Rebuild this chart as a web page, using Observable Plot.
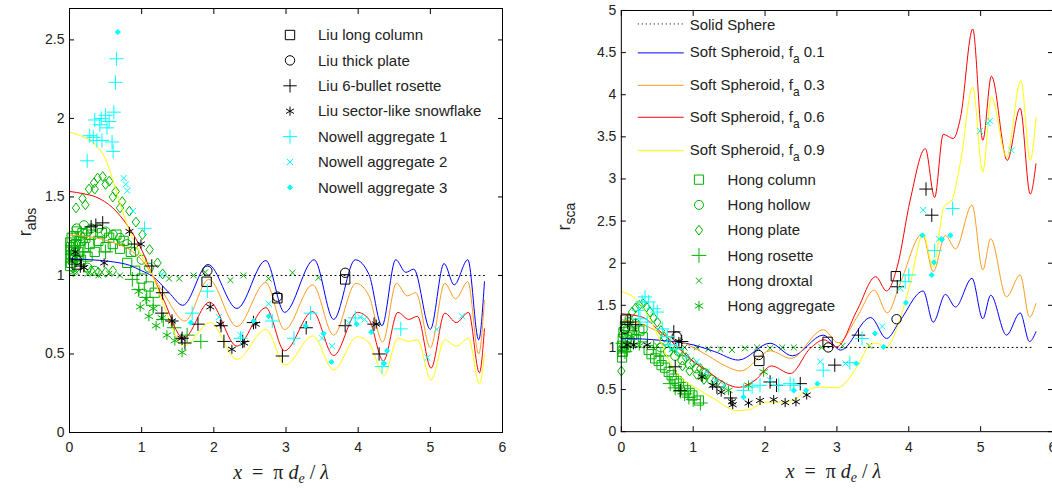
<!DOCTYPE html>
<html><head><meta charset="utf-8">
<script src="https://cdn.jsdelivr.net/npm/d3@7"></script>
<script src="https://cdn.jsdelivr.net/npm/@observablehq/plot@0.6"></script>
<style>
body{margin:0;background:#fff;}
#wrap{position:relative;width:1052px;height:488px;overflow:hidden;background:#fff}
#left,#right{position:absolute;top:0}
#left{left:0}
#right{left:530px}
svg{overflow:visible}
</style></head><body><div id="wrap"><div id="left"></div><div id="right"></div></div>
<script>
// ---------- tick labels ----------
const xTicks = [0, 1, 2, 3, 4, 5, 6];
const absYTicks = [0, 0.5, 1, 1.5, 2, 2.5];
const scaYTicks = [0, 0.5, 1, 1.5, 2, 2.5, 3, 3.5, 4, 4.5, 5];

// ---------- legend labels ----------
const absLegend = ["Liu long column", "Liu thick plate", "Liu 6-bullet rosette", "Liu sector-like snowflake",
  "Nowell aggregate 1", "Nowell aggregate 2", "Nowell aggregate 3"];
const curveLegend = ["Solid Sphere", "0.1", "0.3", "0.6", "0.9"];
const hongLegend = ["Hong column", "Hong hollow", "Hong plate", "Hong rosette", "Hong droxtal", "Hong aggregate"];

// ---------- solid sphere reference ----------
const sphere = [[0, 1], [5.75, 1]];

// ---------- r_abs curves (soft spheroid f_a 0.1, 0.3, 0.6, 0.9) ----------
const absBlue = [[0,1.105],[0.3,1.10],[0.6,1.087],[0.83,1.065],[1.0,1.03],[1.15,0.995],[1.38,0.89],[1.57,0.81],[1.92,1.07],[2.32,0.79],[2.72,1.095],[2.98,0.765],[3.39,1.10],[3.66,0.72],[3.96,1.10],[4.15,1.006],[4.33,0.68],[4.52,1.10],[4.66,1.02],[4.77,1.04],[5.0,0.657],[5.19,1.076],[5.33,0.94],[5.52,1.10],[5.67,0.59],[5.75,0.96]];
const absOrange = [[0,1.256],[0.3,1.245],[0.6,1.21],[0.83,1.165],[1.0,1.10],[1.15,1.0],[1.3,0.89],[1.6,0.71],[1.93,0.975],[2.32,0.675],[2.72,0.955],[2.98,0.655],[3.37,0.94],[3.66,0.62],[3.97,0.95],[4.15,0.87],[4.34,0.576],[4.53,0.95],[4.68,0.87],[4.8,0.89],[5.0,0.54],[5.2,0.95],[5.35,0.85],[5.52,0.96],[5.67,0.50],[5.75,0.84]];
const absRed = [[0,1.535],[0.2,1.52],[0.365,1.50],[0.6,1.43],[0.83,1.30],[1.01,1.154],[1.15,1.0],[1.3,0.85],[1.58,0.60],[1.94,0.83],[2.32,0.55],[2.72,0.795],[2.98,0.52],[3.37,0.77],[3.66,0.49],[3.99,0.765],[4.15,0.72],[4.35,0.455],[4.55,0.765],[4.7,0.72],[4.82,0.74],[5.01,0.41],[5.2,0.76],[5.36,0.70],[5.53,0.765],[5.68,0.38],[5.75,0.66]];
const absYellow = [[0,1.912],[0.2,1.88],[0.365,1.83],[0.5,1.74],[0.64,1.55],[0.8,1.32],[0.97,1.15],[1.15,1.0],[1.3,0.816],[1.45,0.64],[1.58,0.55],[1.95,0.70],[2.32,0.466],[2.72,0.657],[2.99,0.43],[3.37,0.615],[3.66,0.40],[3.99,0.61],[4.15,0.57],[4.36,0.366],[4.55,0.60],[4.7,0.58],[4.82,0.59],[5.01,0.335],[5.2,0.59],[5.36,0.55],[5.53,0.60],[5.68,0.31],[5.75,0.50]];

// ---------- r_sca curves ----------
const scaBlue = [[0,1.107],[0.3,1.10],[0.6,1.08],[1.0,1.03],[1.3,0.95],[1.63,0.85],[2.07,1.05],[2.38,0.90],[2.81,1.146],[3.05,0.968],[3.47,1.355],[3.69,1.106],[3.88,1.32],[4.2,1.67],[4.34,1.30],[4.51,1.63],[4.65,1.48],[4.88,1.82],[5.03,1.34],[5.14,1.62],[5.36,1.146],[5.55,1.41],[5.68,1.07],[5.77,1.185]];
const scaOrange = [[0,1.33],[0.3,1.27],[0.6,1.15],[0.93,1.03],[1.21,0.90],[1.45,0.78],[1.66,0.72],[2.07,0.96],[2.36,0.87],[2.81,1.21],[3.02,1.055],[3.28,1.36],[3.52,1.68],[3.7,1.41],[3.88,1.76],[4.19,2.35],[4.34,1.90],[4.51,2.33],[4.65,2.17],[4.88,2.69],[5.03,1.92],[5.14,2.29],[5.36,1.60],[5.55,1.86],[5.68,1.36],[5.77,1.52]];
const scaRed = [[0,1.40],[0.29,1.36],[0.52,1.205],[0.75,1.03],[0.98,0.85],[1.21,0.71],[1.45,0.573],[1.63,0.526],[1.86,0.61],[2.09,0.78],[2.35,0.69],[2.63,0.99],[2.82,1.09],[3.0,1.007],[3.28,1.44],[3.54,1.84],[3.69,1.67],[3.84,1.96],[4.02,2.75],[4.23,3.36],[4.36,2.78],[4.48,3.53],[4.62,3.48],[4.72,3.73],[4.89,4.78],[5.03,3.46],[5.15,4.22],[5.37,3.22],[5.55,3.84],[5.69,2.82],[5.77,3.18]];
const scaYellow = [[0,1.66],[0.195,1.58],[0.38,1.36],[0.52,1.12],[0.66,0.85],[0.84,0.63],[1.0,0.54],[1.31,0.38],[1.6,0.25],[1.77,0.26],[2.0,0.35],[2.2,0.35],[2.38,0.37],[2.6,0.5],[2.8,0.53],[3.0,0.52],[3.28,0.77],[3.46,1.03],[3.55,1.05],[3.69,1.007],[3.84,1.24],[4.02,1.76],[4.2,2.35],[4.34,1.95],[4.49,2.67],[4.6,2.75],[4.72,3.2],[4.89,4.09],[5.03,3.08],[5.15,3.97],[5.36,3.26],[5.56,4.17],[5.69,3.22],[5.77,3.73]];

// ---------- r_abs data points ----------
const absLiuColumn = [[0.1,1.07],[1.9,0.96],[2.88,0.855],[3.82,0.975]];
const absLiuPlate = [[0.1,1.10],[1.91,1.03],[2.88,0.865],[3.82,1.017]];
const absLiuRosette = [[0.15,1.06],[0.30,1.31],[0.365,1.32],[0.46,1.335],[0.9,1.2],[1.14,1.06],[1.29,0.89],[1.28,0.76],[1.42,0.71],[1.56,0.60],[1.6,0.57],[1.78,0.69],[2.1,0.68],[2.14,0.58],[2.4,0.58],[2.55,0.70],[2.95,0.487],[3.28,0.667],[3.82,0.68],[4.22,0.69],[4.29,0.50]];
const absLiuSnow = [[0.08,1.15],[0.2,1.05],[0.48,1.08],[0.83,1.28],[0.99,1.20],[1.42,0.71],[1.55,0.60],[1.95,0.80],[2.09,0.69],[2.25,0.53],[2.42,0.57],[2.58,0.69],[4.25,0.69]];
const absNowell1 = [[0.245,1.73],[0.28,1.89],[0.33,1.88],[0.35,1.99],[0.38,1.86],[0.42,1.96],[0.44,2.0],[0.45,1.86],[0.50,2.02],[0.52,1.94],[0.55,1.98],[0.59,1.85],[0.605,1.79],[0.614,2.04],[0.637,2.23],[0.65,2.38],[1.04,1.30],[1.70,0.76],[1.91,0.90],[2.37,0.60],[2.81,0.71],[3.11,0.60],[3.34,0.76],[3.96,0.73],[4.33,0.42],[4.59,0.66]];
const absNowell2 = [[0.75,1.62],[0.78,1.58],[0.80,1.54],[0.88,1.41],[1.28,1.006],[2.07,0.735],[2.37,0.62],[2.76,0.82],[3.50,0.60],[3.64,0.55],[3.87,0.70],[4.03,0.735],[4.09,0.72],[4.96,0.476],[5.09,0.657],[5.44,0.74]];
const absNowell3 = [[0.67,2.55],[1.68,0.70],[2.55,0.71],[2.76,0.74],[3.27,0.68],[3.52,0.63],[3.63,0.45],[3.98,0.69],[4.18,0.64],[4.36,0.44],[4.40,0.52]];
const absHongColumn = [[0.01,1.06],[0.01,1.11],[0.01,1.16],[0.01,1.21],[0.02,1.08],[0.02,1.13],[0.02,1.18],[0.03,1.24],[0.05,1.10],[0.05,1.16],[0.06,1.25],[0.08,1.12],[0.09,1.2],[0.1,1.28],[0.12,1.15],[0.14,1.22],[0.16,1.1],[0.18,1.27],[0.2,1.18],[0.22,1.24],[0.25,1.12],[0.28,1.2],[0.3,1.26],[0.35,1.15],[0.4,1.22],[0.45,1.27],[0.5,1.18],[0.55,1.24],[0.6,1.2],[0.65,1.26],[0.7,1.17],[0.75,1.22],[0.8,1.08],[0.85,1.15],[0.91,1.03],[1.0,0.98],[1.1,0.93],[1.18,0.89]];
const absHongHollow = [[0.05,1.2],[0.1,1.3],[0.15,1.25],[0.2,1.32],[0.25,1.28],[0.3,1.3],[0.4,1.3],[0.5,1.28],[0.6,1.26],[0.7,1.24],[0.8,1.2],[0.9,1.15],[1.0,1.1],[1.1,1.05],[0.25,1.05],[0.35,1.03]];
const absHongPlate = [[0.09,1.43],[0.18,1.49],[0.27,1.55],[0.34,1.59],[0.39,1.62],[0.46,1.63],[0.55,1.60],[0.64,1.535],[0.73,1.47],[0.83,1.41],[0.92,1.34],[1.01,1.26],[1.11,1.165],[1.22,1.08],[1.29,1.01],[0.22,1.45],[0.35,1.55],[0.5,1.58],[0.6,1.50],[0.7,1.43],[0.05,1.15],[0.1,1.2],[0.2,1.22],[0.3,1.03],[0.4,1.02],[0.5,1.02],[0.6,1.03]];
const absHongRosette = [[0.1,1.1],[0.2,1.15],[0.5,1.15],[0.87,0.975],[0.96,0.91],[1.07,0.86],[1.16,0.81],[1.30,0.72],[1.45,0.667],[1.63,0.62],[1.82,0.58]];
const absHongDroxtal = [[0.1,1.02],[0.25,1.01],[0.4,1.0],[0.55,1.01],[0.7,1.0],[1.38,0.98],[1.52,0.98],[1.72,1.0],[1.88,1.02],[2.23,0.97],[2.41,1.0],[2.76,0.98],[3.09,1.017],[3.45,0.985]];
const absHongAgg = [[0.05,1.02],[0.2,1.05],[0.96,0.90],[0.98,0.80],[1.06,0.85],[1.1,0.74],[1.16,0.79],[1.2,0.68],[1.28,0.73],[1.35,0.62],[1.46,0.585],[1.56,0.51]];

// ---------- r_sca data points ----------
const scaLiuColumn = [[0.06,1.33],[1.92,0.84],[2.87,1.066],[3.82,1.845]];
const scaLiuPlate = [[0.05,1.22],[0.77,1.13],[1.91,0.91],[2.88,1.0],[3.83,1.335]];
const scaLiuRosette = [[0.09,1.30],[0.2,1.27],[0.73,1.185],[0.84,1.07],[0.75,0.77],[0.82,0.49],[1.33,0.53],[1.52,0.40],[2.07,0.59],[2.16,0.55],[2.49,0.57],[2.97,0.79],[3.30,1.146],[3.84,1.72],[4.24,2.88],[4.32,2.57]];
const scaLiuSnow = [[0.08,1.03],[0.17,1.03],[0.36,1.03],[0.8,1.07],[1.12,0.65],[1.27,0.55],[1.39,0.47],[1.54,0.355],[1.55,0.32],[1.77,0.34],[1.93,0.37],[2.12,0.38],[2.28,0.345],[2.43,0.355],[2.58,0.435]];
const scaNowell1 = [[0.24,1.44],[0.26,1.34],[0.29,1.54],[0.33,1.60],[0.36,1.30],[0.38,1.54],[0.45,1.46],[0.50,1.42],[0.57,1.22],[0.64,1.13],[0.68,1.03],[0.77,0.98],[1.70,0.49],[1.82,0.53],[1.93,0.55],[2.19,0.55],[2.35,0.57],[2.40,0.55],[2.81,0.73],[3.18,0.82],[3.35,1.106],[3.95,1.78],[4.0,1.86],[4.36,2.15],[4.61,2.65]];
const scaNowell2 = [[0.91,0.89],[1.05,0.83],[1.19,0.71],[1.31,0.61],[1.43,0.55],[2.07,0.61],[2.77,0.83],[3.12,0.81],[3.63,1.25],[3.88,1.70],[4.20,2.63],[4.42,2.29],[4.99,3.57],[5.10,3.66],[5.13,3.69],[5.43,3.34]];
const scaNowell3 = [[1.70,0.41],[2.40,0.49],[2.57,0.49],[2.73,0.57],[3.27,0.81],[3.53,1.166],[3.65,1.007],[3.96,1.53],[4.19,2.33],[4.32,1.86],[4.35,2.01],[4.46,2.28],[4.58,2.33]];
const scaHongColumn = [[0.01,0.88],[0.01,0.95],[0.01,1.02],[0.02,1.1],[0.02,0.95],[0.03,1.18],[0.05,1.25],[0.06,1.0],[0.08,1.12],[0.1,1.2],[0.12,1.06],[0.15,1.15],[0.18,1.25],[0.2,1.1],[0.25,1.2],[0.3,1.12],[0.38,0.97],[0.42,0.92],[0.47,0.87],[0.52,0.84],[0.56,0.79],[0.61,0.76],[0.66,0.71],[0.7,0.67],[0.73,0.63],[0.77,0.6],[0.80,0.57],[0.86,0.53],[0.90,0.49],[0.95,0.46],[0.99,0.43],[1.08,0.37]];
const scaHongHollow = [[0.03,1.15],[0.06,1.25],[0.1,1.3],[0.15,1.18],[0.2,1.28],[0.3,1.22],[0.55,1.0],[0.6,1.08],[0.65,0.95],[0.75,0.9],[0.8,0.95],[0.85,0.85],[0.95,0.8],[1.05,0.75],[1.15,0.7],[1.25,0.62]];
const scaHongPlate = [[0.0,0.72],[0.1,1.35],[0.15,1.42],[0.2,1.47],[0.25,1.5],[0.3,1.52],[0.35,1.48],[0.4,1.42],[0.45,1.35],[0.5,1.3],[0.55,1.2],[0.6,1.12],[0.7,1.02],[0.8,0.95],[0.85,0.78],[0.9,0.88],[0.95,0.72],[1.0,0.82],[1.05,0.68],[1.1,0.75],[1.15,0.62],[1.2,0.68],[1.3,0.6],[1.4,0.55]];
const scaHongRosette = [[0.02,1.05],[0.05,0.95],[0.45,1.0],[0.55,0.9],[0.68,0.57],[0.75,0.52],[0.82,0.48],[0.88,0.45],[0.94,0.41],[1.0,0.38],[1.10,0.34]];
const scaHongDroxtal = [[0.5,1.02],[0.7,0.98],[0.88,1.0],[1.05,1.0],[1.21,0.98],[1.38,0.98],[1.54,0.97],[1.72,0.99],[1.89,1.0],[2.07,0.99],[2.24,1.0],[2.40,1.0],[2.79,1.0],[3.08,1.02],[3.45,1.02]];
const scaHongAgg = [[0.02,1.0],[0.1,1.02],[0.25,1.02],[1.13,0.65],[1.49,0.49],[1.77,0.55],[1.98,0.71]];

// ---------- styles ----------
const FONT = "'Liberation Sans', Arial, Helvetica, sans-serif";
const C = {blue: "#0000ff", orange: "#ff9a1f", red: "#ff0000", yellow: "#ffff00", green: "#00b400", cyan: "#00ffff", black: "#000000"};
const curveColors = [C.blue, C.orange, C.red, C.yellow];
const diamondM = {draw(ctx, size) { const r = Math.sqrt(size) * 0.62; ctx.moveTo(0, -r); ctx.lineTo(r * 0.75, 0); ctx.lineTo(0, r); ctx.lineTo(-r * 0.75, 0); ctx.closePath(); }};
const symMap = {square: d3.symbolSquare, circle: d3.symbolCircle, plus: d3.symbolPlus, times: d3.symbolTimes, asterisk: d3.symbolAsterisk, diamond2: d3.symbolDiamond2, diamondM: diamondM};
const liuStyles = [["square", C.black, 5.3, false], ["circle", C.black, 4.7, false], ["plus", C.black, 4.4, false], ["asterisk", C.black, 4.3, false]];
const nowellStyles = [["plus", C.cyan, 4.6, false], ["times", C.cyan, 2.9, false], ["diamond2", C.cyan, 2.3, true]];
const hongStyles = [["square", C.green, 5.2, false], ["circle", C.green, 4.5, false], ["diamondM", C.green, 4.5, false], ["plus", C.green, 4.8, false], ["times", C.green, 2.8, false], ["asterisk", C.green, 4.6, false]];

function dots(data, [sym, color, r, filled]) {
  return Plot.dot(data, {x: d => d[0], y: d => d[1], symbol: sym === "diamondM" ? diamondM : sym, r,
    stroke: color, fill: filled ? color : "none", strokeWidth: 1});
}
function curve(data, color, dash) {
  return Plot.line(data, {x: d => d[0], y: d => d[1], stroke: color, strokeWidth: 1, curve: "monotone-x", strokeDasharray: dash});
}

function panel({width, marginLeft, marginRight, marginTop, yDomain, yTicks, marks}) {
  return Plot.plot({
    width, height: 488, marginTop, marginBottom: 56, marginLeft, marginRight,
    style: {fontFamily: FONT, fontSize: "14px", color: "black", background: "transparent", overflow: "visible"},
    x: {domain: [0, 6], label: null},
    y: {domain: yDomain, label: null},
    marks: [
      ...marks,
      Plot.frame({stroke: "black", strokeWidth: 1}),
      Plot.axisX(xTicks, {anchor: "bottom", tickSize: -5, tickPadding: 15, tickFormat: d => String(d), fill: "#222"}),
      Plot.axisX(xTicks, {anchor: "top", tickSize: -5, tickFormat: () => ""}),
      Plot.axisY(yTicks, {anchor: "left", tickSize: -5, tickPadding: 10, tickFormat: d => String(d), fill: "#222"}),
      Plot.axisY(yTicks, {anchor: "right", tickSize: -5, tickFormat: () => ""})
    ]
  });
}

const absCurves = [absBlue, absOrange, absRed, absYellow];
const scaCurves = [scaBlue, scaOrange, scaRed, scaYellow];
const absHong = [absHongColumn, absHongHollow, absHongPlate, absHongRosette, absHongDroxtal, absHongAgg];
const scaHong = [scaHongColumn, scaHongHollow, scaHongPlate, scaHongRosette, scaHongDroxtal, scaHongAgg];
const absLiu = [absLiuColumn, absLiuPlate, absLiuRosette, absLiuSnow];
const scaLiu = [scaLiuColumn, scaLiuPlate, scaLiuRosette, scaLiuSnow];
const absNowell = [absNowell1, absNowell2, absNowell3];
const scaNowell = [scaNowell1, scaNowell2, scaNowell3];

function layers(hong, curves, liu, nowell) {
  return [
    ...hong.map((d, i) => dots(d, hongStyles[i])),
    curve(sphere, "black", "1,3.5"),
    ...curves.map((d, i) => curve(d, curveColors[i])),
    ...liu.map((d, i) => dots(d, liuStyles[i])),
    ...nowell.map((d, i) => dots(d, nowellStyles[i]))
  ];
}

const left = panel({width: 530, marginLeft: 69, marginRight: 28, marginTop: 8, yDomain: [0, 2.7], yTicks: absYTicks,
  marks: layers(absHong, absCurves, absLiu, absNowell)});
const right = panel({width: 523, marginLeft: 91, marginRight: 0, marginTop: 10, yDomain: [0, 5], yTicks: scaYTicks,
  marks: layers(scaHong, scaCurves, scaLiu, scaNowell)});
document.getElementById("left").appendChild(left);
document.getElementById("right").appendChild(right);

// ---------- legends and labels ----------
const LEG = 15;
function legendSym(g, [sym, color, r, filled], x, y) {
  const s = sym === "diamondM" ? diamondM : symMap[sym];
  g.append("path").attr("d", d3.symbol(s, Math.PI * r * r)()).attr("transform", `translate(${x},${y})`)
    .attr("fill", filled ? color : "none").attr("stroke", color).attr("stroke-width", 1);
}
function txt(g, x, y, str, size) {
  return g.append("text").attr("x", x).attr("y", y).attr("dy", "0.35em").attr("text-anchor", "start")
    .attr("font-family", FONT).attr("font-size", size || LEG).attr("fill", "#222").text(str);
}
function yLabel(svg, x, y, main, sub) {
  const t = svg.append("text").attr("transform", `translate(${x},${y}) rotate(-90)`).attr("text-anchor", "middle")
    .attr("font-family", FONT).attr("font-size", 18).attr("fill", "#222");
  t.append("tspan").text(main);
  t.append("tspan").attr("font-size", 14).attr("dy", 5).text(sub);
}
function xLabel(svg, cx, y) {
  const t = svg.append("text").attr("x", cx).attr("y", y).attr("text-anchor", "middle")
    .attr("font-family", "'Liberation Serif', 'DejaVu Serif', serif").attr("font-size", 20).attr("fill", "#222")
    .style("white-space", "pre");
  t.append("tspan").attr("font-style", "italic").text("x");
  t.append("tspan").text("  =  π ");
  t.append("tspan").attr("font-style", "italic").text("d");
  t.append("tspan").attr("font-style", "italic").attr("font-size", 14).attr("dy", 4).text("e");
  t.append("tspan").attr("dy", -4).text(" / ");
  t.append("tspan").attr("font-style", "italic").text("λ");
}

const sL = d3.select(left);
const gL = sL.append("g").attr("text-anchor", "start");
const allAbsStyles = [...liuStyles, ...nowellStyles];
absLegend.forEach((label, i) => {
  const y = 35 + i * 25.4;
  legendSym(gL, allAbsStyles[i], 290, y);
  txt(gL, 318, y, label);
});
yLabel(sL, 31, 222, "r", "abs");
xLabel(sL, 281, 479);

const sR = d3.select(right);
const gR = sR.append("g").attr("text-anchor", "start");
const curveRows = [24, 53, 85.5, 117.5, 151];
curveRows.forEach((y, i) => {
  gR.append("line").attr("x1", 108).attr("x2", 154).attr("y1", y).attr("y2", y)
    .attr("stroke", i === 0 ? "black" : curveColors[i - 1]).attr("stroke-width", 1)
    .attr("stroke-dasharray", i === 0 ? "1,3" : null);
  if (i === 0) txt(gR, 160, y + 1, curveLegend[0]);
  else {
    const t = txt(gR, 160, y - 1, "Soft Spheroid, f");
    t.append("tspan").attr("font-size", 12).attr("dy", 6).text("a");
    t.append("tspan").attr("dy", -6).text(" " + curveLegend[i]);
  }
});
hongLegend.forEach((label, i) => {
  const y = 180 + i * 25.3;
  legendSym(gR, hongStyles[i], 169.3, y);
  txt(gR, 198, y, label);
});
yLabel(sR, 40, 217, "r", "sca");
xLabel(sR, 304, 479);
</script>
</body></html>
